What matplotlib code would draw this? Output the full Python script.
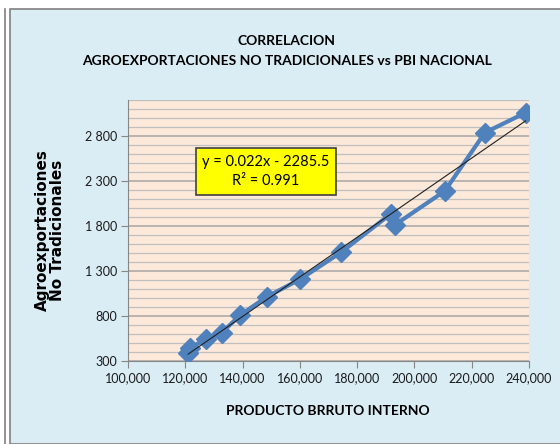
import matplotlib
matplotlib.use("Agg")
import matplotlib.pyplot as plt
import numpy as np
from matplotlib.ticker import FuncFormatter, MultipleLocator
from matplotlib.patches import Rectangle
from matplotlib.lines import Line2D

# Data
pbi = [121000, 121500, 127300, 132700, 139200, 148500, 160200, 174400, 191700, 193100, 210600, 224600, 238800]
agro = [390, 445, 541, 614, 811, 1014, 1210, 1508, 1933, 1811, 2189, 2837, 3059]
slope = 0.022
intercept = -2285.5
eq_label = "y = 0.022x - 2285.5"
r2_label = "R² = 0.991"
title = "CORRELACION\nAGROEXPORTACIONES NO TRADICIONALES vs PBI NACIONAL"
xlabel = "PRODUCTO BRRUTO INTERNO"
ylabel = "Agroexportaciones\nNo Tradicionales"
yticks = [300, 800, 1300, 1800, 2300, 2800]
xticks = list(range(100000, 240001, 20000))

W, H = 560, 444
fig = plt.figure(figsize=(W/100, H/100), dpi=100)
fig.patch.set_facecolor("white")

# outer background/frame
fig.patches.append(Rectangle((9.5/W, 0), 1, (H-9)/H, transform=fig.transFigure,
                             facecolor="#DAEDF4", edgecolor="#808080", linewidth=1.2, zorder=-5))
fig.lines.append(Line2D([4.5/W, 4.5/W], [0, (H-9)/H], transform=fig.transFigure, color="#808080", lw=1.2))

ax = fig.add_axes([128/W, 1-361/H, 401/W, 261/H])
ax.set_facecolor("#FDE9D9")
ax.set_xlim(100000, 240000)
ax.set_ylim(300, 3200)

ax.yaxis.set_minor_locator(MultipleLocator(100))
ax.set_yticks(yticks)
ax.set_xticks(xticks)
ax.grid(which="minor", axis="y", color="#BFBFBF", lw=0.9)
ax.grid(which="major", axis="y", color="#A6A6A6", lw=1.1)
ax.set_axisbelow(True)
ax.tick_params(axis="y", which="minor", length=0)
ax.tick_params(axis="both", which="major", length=5, color="#868686", direction="out", pad=3)

for s in ["top", "right"]:
    ax.spines[s].set_visible(False)
for s in ["left", "bottom"]:
    ax.spines[s].set_color("#868686")

ax.yaxis.set_major_formatter(FuncFormatter(lambda v, p: f"{int(v):,}".replace(",", " ")))
ax.xaxis.set_major_formatter(FuncFormatter(lambda v, p: f"{int(v):,}"))
tfont = "Lato"
for lab in ax.get_xticklabels() + ax.get_yticklabels():
    lab.set_fontfamily(tfont)
    lab.set_fontsize(9)
    lab.set_color("#1a1a1a")

# trendline
xs = np.array([min(pbi), max(pbi)])
ax.plot(xs, slope*xs + intercept, color="#202020", lw=0.8, zorder=4)
ax.plot(pbi, agro, color="#4F81BD", lw=3, marker="D", markersize=10, zorder=3)

ax.text(0.344, 0.726, eq_label + "\n" + r2_label, transform=ax.transAxes,
        ha="center", va="center", fontsize=10.5, family=tfont, linespacing=1.5,
        bbox=dict(boxstyle="square,pad=0.45", facecolor="#FFFF00", edgecolor="#404040", lw=1.2))

fig.text(287/W, 1-51/H, title, ha="center", va="center", fontsize=10, family=tfont,
         weight="bold", linespacing=1.75)
fig.text(328/W, 1-411/H, xlabel, ha="center", va="center", fontsize=10, family=tfont, weight="bold")
fig.text(50/W, 1-230/H, ylabel, ha="center", va="center", rotation=90, fontsize=11,
         family="DejaVu Sans", weight="bold", linespacing=1.0)

fig.savefig("out.png", dpi=100)
